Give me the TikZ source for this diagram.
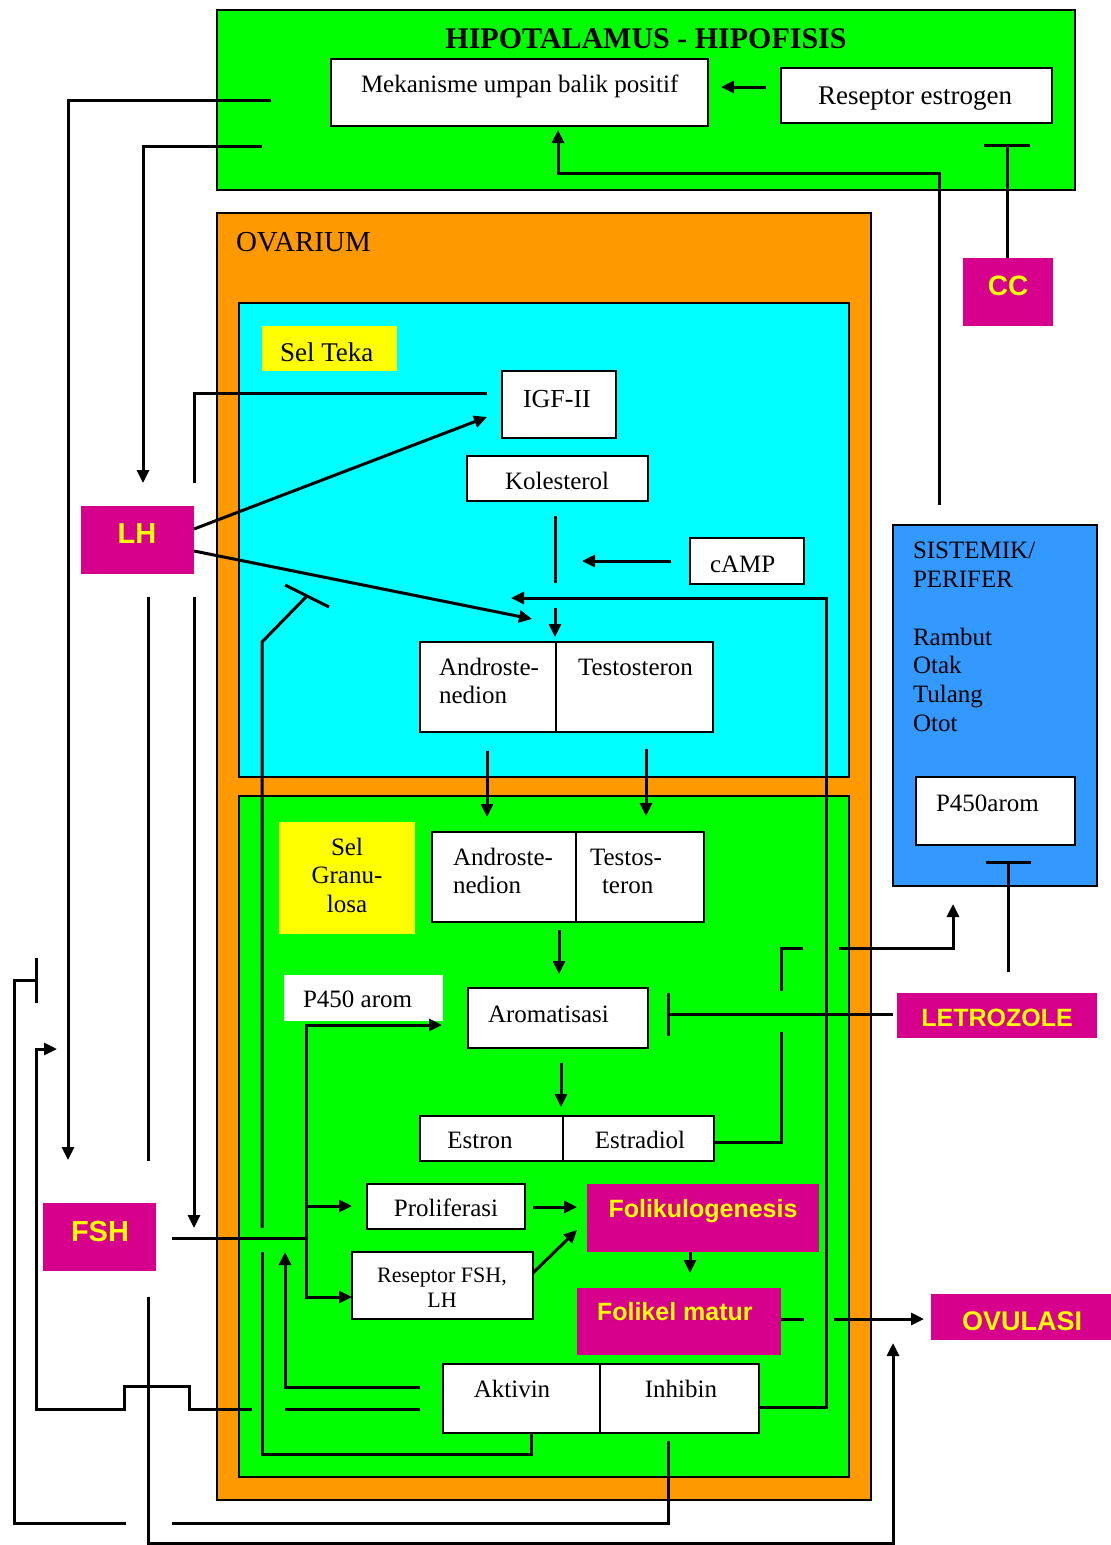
\documentclass[tikz,border=0pt]{standalone}
\usepackage{fontspec}
\setmainfont{Liberation Serif}
\setsansfont{Liberation Sans}
\usetikzlibrary{arrows.meta}
\definecolor{hgreen}{RGB}{0,255,0}
\definecolor{horange}{RGB}{255,153,0}
\definecolor{hcyan}{RGB}{0,255,255}
\definecolor{hyellow}{RGB}{255,255,0}
\definecolor{hmag}{RGB}{214,0,140}
\definecolor{hblue}{RGB}{51,153,255}
\newcommand{\fsz}[1]{\fontsize{#1pt}{#1pt}\selectfont}
\begin{document}
\begin{tikzpicture}[x=1pt,y=-1pt,
  every node/.style={inner sep=0pt,outer sep=0pt},
  nw/.style={anchor=north west,rectangle},
  sz/.style 2 args={minimum width=#1pt,minimum height=#2pt},
  area/.style={nw,draw=black,line width=1.5pt,fill=#1},
  wbox/.style={nw,draw=black,line width=1.5pt,fill=white},
  mbox/.style={nw,fill=hmag},
  ybox/.style={nw,fill=hyellow},
  plain/.style={nw,fill=white},
  txt/.style={anchor=base west,font=\fsz{25}},
  ctxt/.style={anchor=base,font=\fsz{25}},
  lab/.style={anchor=base,font=\sffamily\bfseries\fsz{#1},text=hyellow},
  conn/.style={line width=3pt},
  arr/.style={line width=3pt,-{Triangle[length=13pt,width=12pt]}}
]
\useasboundingbox (0,0) rectangle (1111,1545);
\fill[white] (0,0) rectangle (1111,1545);

% ---------- HIPOTALAMUS ----------
\node[area=hgreen,sz={858}{180}] (hipo) at (217,10) {};
\node[anchor=base,font=\bfseries\fsz{30}] (thipo) at (646,48) {HIPOTALAMUS - HIPOFISIS};
\node[wbox,sz={377}{67}] (mek) at (331,59) {};
\node[txt] (tmek) at (361,92) {Mekanisme umpan balik positif};
\node[wbox,sz={271}{55}] (resep) at (781,68) {};
\node[txt,font=\fsz{27}] (tresep) at (818,104) {Reseptor estrogen};
\node[mbox,sz={90}{68}] (cc) at (963,258) {};
\node[lab=28] (tcc) at (1008,295) {CC};

% ---------- OVARIUM ----------
\node[area=horange,sz={654}{1287}] (ovar) at (217,213) {};
\node[txt,font=\fsz{29}] (tovar) at (236,251) {OVARIUM};
\node[area=hcyan,sz={610}{474}] (teka) at (239,303) {};
\node[ybox,sz={135}{45}] (selteka) at (262,326) {};
\node[txt,font=\fsz{27}] (tselteka) at (280,361) {Sel Teka};
\node[wbox,sz={114}{67}] (igf) at (502,371) {};
\node[txt,font=\fsz{26}] (tigf) at (523,407) {IGF-II};
\node[wbox,sz={181}{45}] (kol) at (467,456) {};
\node[txt] (tkol) at (505,489) {Kolesterol};
\node[wbox,sz={114}{46}] (camp) at (690,538) {};
\node[txt] (tcamp) at (710,572) {cAMP};
\node[wbox,sz={136}{90}] (andTa) at (420,642) {};
\node[wbox,sz={157}{90}] (andTb) at (556,642) {};
\node[txt] (tandT1) at (439,675) {Androste-};
\node[txt] (tandT2) at (439,703) {nedion};
\node[txt] (ttestT) at (578,675) {Testosteron};

\node[area=hgreen,sz={610}{681}] (gran) at (239,796) {};
\node[ybox,sz={136}{112}] (selgran) at (279,822) {};
\node[ctxt] (tsg1) at (347,855) {Sel};
\node[ctxt] (tsg2) at (347,883) {Granu-};
\node[ctxt] (tsg3) at (347,912) {losa};
\node[wbox,sz={144}{90}] (andGa) at (432,832) {};
\node[wbox,sz={128}{90}] (andGb) at (576,832) {};
\node[txt] (tandG1) at (453,865) {Androste-};
\node[txt] (tandG2) at (453,893) {nedion};
\node[txt] (ttestG1) at (590,865) {Testos-};
\node[txt] (ttestG2) at (602,893) {teron};
\node[plain,sz={159}{46}] (p450l) at (284,975) {};
\node[txt] (tp450l) at (303,1007) {P450 arom};
\node[wbox,sz={180}{60}] (arom) at (468,988) {};
\node[txt] (tarom) at (488,1022) {Aromatisasi};
\node[wbox,sz={143}{45}] (estrA) at (420,1116) {};
\node[wbox,sz={151}{45}] (estrB) at (563,1116) {};
\node[ctxt] (testron) at (480,1148) {Estron};
\node[ctxt] (testrad) at (640,1148) {Estradiol};
\node[wbox,sz={158}{45}] (prolif) at (367,1184) {};
\node[ctxt] (tprolif) at (446,1216) {Proliferasi};
\node[wbox,sz={181}{67}] (resfsh) at (352,1252) {};
\node[ctxt,font=\fsz{22}] (tres1) at (442,1282) {Reseptor FSH,};
\node[ctxt,font=\fsz{22}] (tres2) at (442,1307) {LH};
\node[mbox,sz={232}{68}] (folg) at (587,1184) {};
\node[lab=25] (tfolg) at (703,1217) {Folikulogenesis};
\node[mbox,sz={204}{67}] (folm) at (577,1288) {};
\node[lab=25,anchor=base west] (tfolm) at (597,1320) {Folikel matur};
\node[wbox,sz={157}{69}] (aktA) at (443,1364) {};
\node[wbox,sz={159}{69}] (aktB) at (600,1364) {};
\node[ctxt] (takt) at (512,1397) {Aktivin};
\node[ctxt] (tinh) at (681,1397) {Inhibin};

% ---------- SISTEMIK ----------
\node[area=hblue,sz={204}{361}] (sist) at (893,525) {};
\node[txt] (ts1) at (913,558) {SISTEMIK/};
\node[txt] (ts2) at (913,587) {PERIFER};
\node[txt] (ts3) at (913,645) {Rambut};
\node[txt] (ts4) at (913,673) {Otak};
\node[txt] (ts5) at (913,702) {Tulang};
\node[txt] (ts6) at (913,731) {Otot};
\node[wbox,sz={159}{68}] (p450r) at (916,777) {};
\node[txt] (tp450r) at (936,811) {P450arom};

% ---------- drugs / hormones ----------
\node[mbox,sz={200}{45}] (letro) at (897,993) {};
\node[lab=25] (tletro) at (997,1026) {LETROZOLE};
\node[mbox,sz={180}{46}] (ovul) at (931,1294) {};
\node[lab=27] (tovul) at (1022,1330) {OVULASI};
\node[mbox,sz={113}{68}] (lh) at (81,506) {};
\node[lab=29] (tlh) at (137,543) {LH};
\node[mbox,sz={113}{68}] (fsh) at (43,1203) {};
\node[lab=29] (tfsh) at (100,1241) {FSH};

% ---------- connectors ----------
% top box
\draw[arr] (766,87) -- (721,87);
\draw[conn] (1007,258) -- (1007,145);
\draw[conn] (984,145) -- (1030,145);
\draw[arr] (939,505) -- (939,173) -- (558,173) -- (558,130);
% hypothalamus -> FSH / LH
\draw[arr] (271,100) -- (68,100) -- (68,1160);
\draw[arr] (262,146) -- (143,146) -- (143,483);
% LH
\draw[conn] (194,483) -- (194,393) -- (487,393);
\draw[arr] (194,529) -- (487,417);
\draw[arr] (194,551) -- (532,619);
\draw[arr] (194,597) -- (194,1228);
\draw[conn] (148,597) -- (148,1161);
\draw[arr] (148,1297) -- (148,1543) -- (893,1543) -- (893,1343);
% theca
\draw[conn] (555,516) -- (555,583);
\draw[arr] (555,608) -- (555,637);
\draw[arr] (671,561) -- (582,561);
\draw[arr] (487,751) -- (487,817);
\draw[arr] (646,749) -- (646,816);
% inhibin -> theca
\draw[arr] (759,1407) -- (826,1407) -- (826,598) -- (511,598);
% aktivin -| theca inhibition
\draw[conn] (531,1433) -- (531,1454) -- (262,1454) -- (262,1252);
\draw[conn] (262,1228) -- (262,642) -- (306,597);
\draw[conn] (285,585) -- (329,607);
% granulosa
\draw[arr] (559,930) -- (559,974);
\draw[arr] (561,1063) -- (561,1107);
\draw[conn] (714,1142) -- (781,1142) -- (781,1032);
\draw[conn] (781,991) -- (781,948) -- (803,948);
\draw[arr] (839,948) -- (953,948) -- (953,904);
\draw[conn] (893,1014) -- (668,1014);
\draw[conn] (668,993) -- (668,1036);
\draw[conn] (1008,972) -- (1008,862);
\draw[conn] (986,862) -- (1031,862);
% FSH
\draw[conn] (172,1238) -- (306,1238);
\draw[arr] (306,1238) |- (442,1025);
\draw[arr] (306,1238) |- (352,1206);
\draw[arr] (306,1238) |- (352,1297);
\draw[arr] (533,1207) -- (577,1207);
\draw[arr] (533,1273) -- (577,1230);
\draw[arr] (690,1252) -- (690,1273);
\draw[conn] (781,1319) -- (804,1319);
\draw[arr] (834,1319) -- (924,1319);
% aktivin
\draw[arr] (420,1387) -- (285,1387) -- (285,1252);
\draw[conn] (420,1409) -- (285,1409);
\draw[arr] (252,1409) -- (189,1409) -- (189,1386) -- (124,1386) -- (124,1409) -- (36,1409) -- (36,1049) -- (57,1049);
% inhibin -> FSH
\draw[conn] (668,1441) -- (668,1523) -- (172,1523);
\draw[conn] (126,1523) -- (14,1523) -- (14,980) -- (36,980);
\draw[conn] (36,958) -- (36,1003);
\end{tikzpicture}
\end{document}
